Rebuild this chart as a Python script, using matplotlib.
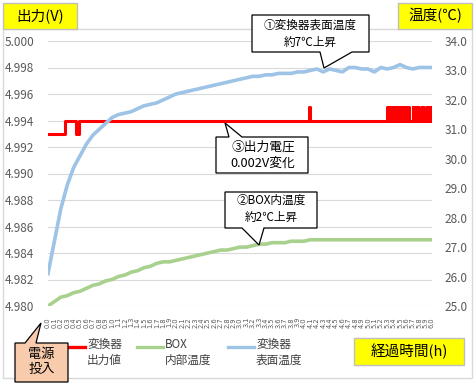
import matplotlib
matplotlib.use("Agg")
import matplotlib.pyplot as plt
from matplotlib.patches import Polygon, Rectangle
from matplotlib.lines import Line2D
import numpy as np

plt.rcParams['font.family'] = ['Noto Sans CJK JP', 'DejaVu Sans']

# elapsed time (h), one sample every 0.1 h
hours = np.round(np.arange(0, 61) * 0.1, 1)

# converter surface temperature (right axis, deg C)
surface_temp = [26.1, 27.2, 28.3, 29.1, 29.7, 30.1, 30.5, 30.8, 31.0, 31.2,
                31.4, 31.5, 31.55, 31.6, 31.7, 31.8, 31.85, 31.9, 32.0, 32.1,
                32.2, 32.25, 32.3, 32.35, 32.4, 32.45, 32.5, 32.55, 32.6, 32.65,
                32.7, 32.75, 32.8, 32.8, 32.85, 32.85, 32.9, 32.9, 32.9, 32.95,
                32.95, 33.0, 33.05, 32.95, 33.05, 33.0, 32.95, 33.1, 33.1, 33.05,
                33.05, 32.95, 33.1, 33.05, 33.1, 33.2, 33.1, 33.05, 33.1, 33.1,
                33.1]

# temperature inside the box (right axis, deg C)
box_temp = [25.0, 25.15, 25.3, 25.35, 25.45, 25.5, 25.6, 25.7, 25.75, 25.85,
            25.9, 26.0, 26.05, 26.15, 26.2, 26.3, 26.35, 26.45, 26.5, 26.5,
            26.55, 26.6, 26.65, 26.7, 26.75, 26.8, 26.85, 26.9, 26.9, 26.95,
            27.0, 27.0, 27.05, 27.1, 27.1, 27.15, 27.15, 27.15, 27.2, 27.2,
            27.2, 27.25, 27.25, 27.25, 27.25, 27.25, 27.25, 27.25, 27.25, 27.25,
            27.25, 27.25, 27.25, 27.25, 27.25, 27.25, 27.25, 27.25, 27.25, 27.25,
            27.25]

# converter output voltage (left axis), change points (time h, value V)
out_t = [0.0, 0.27, 0.44, 0.48, 4.08, 4.10,
         5.30, 5.31, 5.32, 5.335, 5.345, 5.36,
         5.39, 5.40, 5.41, 5.425, 5.435, 5.45, 5.46, 5.475, 5.485, 5.50, 5.51, 5.525, 5.535, 5.54,
         5.58, 5.59, 5.60, 5.615, 5.625, 5.64,
         5.70, 5.71, 5.72, 5.735, 5.745, 5.76, 5.77, 5.79,
         5.84, 5.85, 5.855, 5.86,
         5.91, 5.92, 5.925, 5.93,
         5.96, 5.97, 5.98, 5.99, 6.0]
out_v = [4.993, 4.994, 4.993, 4.994, 4.995, 4.994,
         4.995, 4.994, 4.995, 4.994, 4.995, 4.994,
         4.995, 4.994, 4.995, 4.994, 4.995, 4.994, 4.995, 4.994, 4.995, 4.994, 4.995, 4.994, 4.995, 4.994,
         4.995, 4.994, 4.995, 4.994, 4.995, 4.994,
         4.995, 4.994, 4.995, 4.994, 4.995, 4.994, 4.995, 4.994,
         4.995, 4.994, 4.995, 4.994,
         4.995, 4.994, 4.995, 4.994,
         4.995, 4.994, 4.995, 4.994, 4.995]

left_ticks = [4.980, 4.982, 4.984, 4.986, 4.988, 4.990, 4.992, 4.994, 4.996, 4.998, 5.000]
right_ticks = [25, 26, 27, 28, 29, 30, 31, 32, 33, 34]

RED = '#FF0000'
GREEN = '#A9D18E'
BLUE = '#9DC3E6'
TICK = '#595959'

W, H = 477, 390
fig = plt.figure(figsize=(W / 100, H / 100), dpi=100)


def px(x, y):
    return (x / W, 1 - y / H)


ax = fig.add_axes([48 / W, 1 - 306 / H, 384 / W, 265 / H])
ax2 = ax.twinx()

ax.step(out_t, out_v, where='post', color=RED, lw=2.2)
ax2.plot(hours, box_temp, color=GREEN, lw=2.6)
ax2.plot(hours, surface_temp, color=BLUE, lw=2.6)

ax.set_xlim(0, 6)
ax.set_ylim(4.980, 5.000)
ax2.set_ylim(25, 34)
ax.set_yticks(left_ticks)
ax.set_yticklabels([f'{v:.3f}' for v in left_ticks])
ax2.set_yticks(right_ticks)
ax2.set_yticklabels([f'{v:.1f}' for v in right_ticks])
ax.set_xticks(hours)
ax.set_xticklabels([f'{v:.1f}' for v in hours], rotation=90, fontsize=4.8,
                   color=TICK, family='DejaVu Sans')
ax.tick_params(axis='x', length=0, pad=8)
ax.tick_params(axis='y', length=0, pad=10, labelsize=8.5, labelcolor=TICK)
ax2.tick_params(axis='y', length=0, pad=9, labelsize=8.5, labelcolor=TICK)
ax.grid(axis='y', color='#D9D9D9', lw=0.8)
ax.set_axisbelow(True)
for a in (ax, ax2):
    for s in a.spines.values():
        s.set_visible(False)

# outer frame and yellow title boxes
fig.add_artist(Rectangle(px(3, 378), 469 / W, 349 / H, fill=False,
                         edgecolor='#D9D9D9', lw=1, transform=fig.transFigure))


def label_box(x0, y0, x1, y1, text):
    fig.add_artist(Rectangle(px(x0, y1), (x1 - x0) / W, (y1 - y0) / H,
                             facecolor='#FFFF00', edgecolor='#BFBFBF', lw=1,
                             transform=fig.transFigure))
    fig.text(*px((x0 + x1) / 2, (y0 + y1) / 2), text, ha='center', va='center',
             fontsize=10.5, color='black')


label_box(3, 3, 77, 29, '出力(V)')
label_box(398, 3, 472, 29, '温度(℃)')
label_box(354, 338, 464, 365, '経過時間(h)')


def callout(points, text, cx, cy, face='white', size=8.4, spacing=1.45):
    fig.add_artist(Polygon([px(x, y) for x, y in points], closed=True,
                           facecolor=face, edgecolor='black', lw=0.9,
                           transform=fig.transFigure, zorder=5))
    fig.text(*px(cx, cy), text, ha='center', va='center', fontsize=size,
             linespacing=spacing, zorder=6)


callout([(252, 15), (369, 15), (369, 52), (352, 52), (324, 68), (320, 52), (252, 52)],
        '①変換器表面温度\n約7℃上昇', 310, 34)
callout([(216, 137), (229, 137), (225, 123), (242, 137), (308, 137), (308, 173), (216, 173)],
        '③出力電圧\n0.002V変化', 263, 155, size=9.2, spacing=1.35)
callout([(225, 192), (317, 192), (317, 228), (264, 228), (259, 245), (242, 228), (225, 228)],
        '②BOX内温度\n約2℃上昇', 271, 209)

# legend
for x0, col, txt in [(59, RED, '変換器\n出力値'), (137, GREEN, 'BOX\n内部温度'),
                     (228, BLUE, '変換器\n表面温度')]:
    fig.add_artist(Line2D([x0 / W, (x0 + 26) / W], [1 - 347 / H] * 2, color=col,
                          lw=2.4, transform=fig.transFigure))
    fig.text(*px(x0 + 28, 338), txt, ha='left', va='top', fontsize=8.4,
             color='#404040', linespacing=1.3)

callout([(15, 343), (25, 343), (41, 323), (36, 343), (68, 343), (68, 382), (15, 382)],
        '電源\n投入', 41.5, 362, face='#F8CBAD', size=9.5, spacing=1.15)

fig.savefig('out.png', dpi=100)
